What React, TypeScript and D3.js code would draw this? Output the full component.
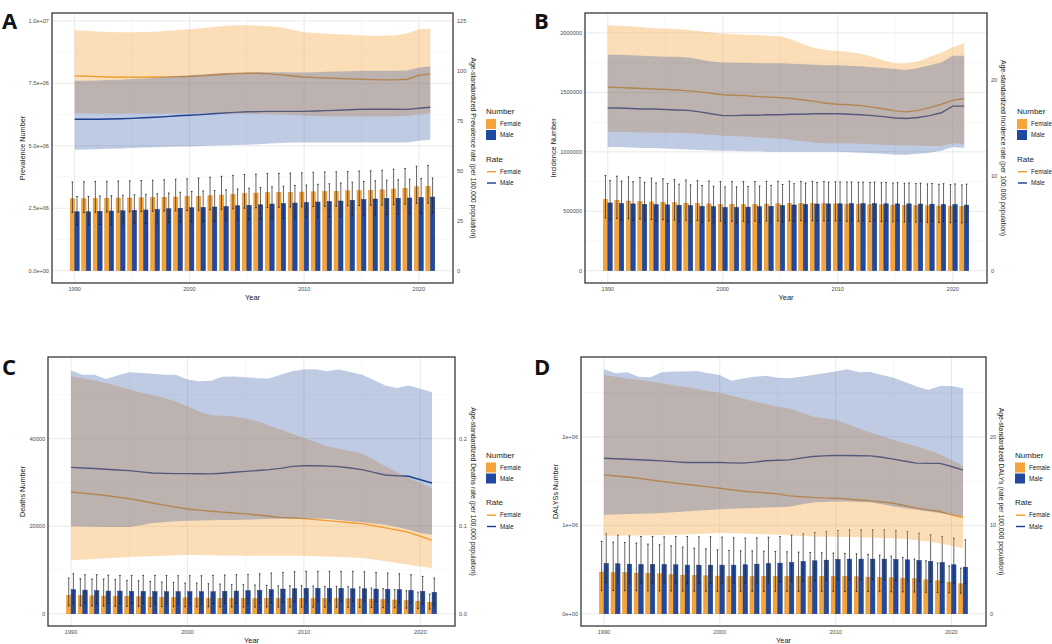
import React from 'react'
import * as d3 from 'd3'

// Burden of disease by sex, 1990-2021: bars = number (with UI), ribbons/lines = age-standardized rate

const years = [
  1990, 1991, 1992, 1993, 1994, 1995, 1996, 1997,
  1998, 1999, 2000, 2001, 2002, 2003, 2004, 2005,
  2006, 2007, 2008, 2009, 2010, 2011, 2012, 2013,
  2014, 2015, 2016, 2017, 2018, 2019, 2020, 2021,
]

// ---- A: prevalence (numbers in millions) ----
const prevFemaleNum = [
  2.88, 2.88, 2.89, 2.90, 2.91, 2.91, 2.92, 2.93,
  2.94, 2.95, 2.97, 2.98, 3.00, 3.03, 3.06, 3.09,
  3.11, 3.13, 3.13, 3.14, 3.15, 3.16, 3.17, 3.18,
  3.20, 3.21, 3.22, 3.24, 3.27, 3.30, 3.36, 3.38,
]
const prevFemaleLow = [
  2.33, 2.33, 2.34, 2.35, 2.35, 2.36, 2.37, 2.38,
  2.39, 2.40, 2.41, 2.42, 2.44, 2.46, 2.48, 2.50,
  2.52, 2.53, 2.54, 2.55, 2.56, 2.57, 2.58, 2.59,
  2.60, 2.61, 2.62, 2.63, 2.65, 2.67, 2.70, 2.71,
]
const prevFemaleUp = [
  3.55, 3.56, 3.57, 3.58, 3.59, 3.60, 3.61, 3.62,
  3.64, 3.66, 3.68, 3.71, 3.74, 3.78, 3.82, 3.85,
  3.87, 3.89, 3.90, 3.91, 3.92, 3.94, 3.95, 3.96,
  3.97, 3.99, 4.00, 4.02, 4.06, 4.09, 4.18, 4.21,
]
const prevMaleNum = [
  2.36, 2.36, 2.38, 2.39, 2.40, 2.42, 2.43, 2.45,
  2.48, 2.50, 2.52, 2.53, 2.55, 2.57, 2.60, 2.62,
  2.64, 2.67, 2.69, 2.71, 2.73, 2.75, 2.77, 2.79,
  2.82, 2.85, 2.87, 2.89, 2.90, 2.91, 2.93, 2.95,
]
const prevMaleLow = [
  1.84, 1.84, 1.85, 1.86, 1.87, 1.88, 1.89, 1.91,
  1.93, 1.95, 1.96, 1.97, 1.99, 2.01, 2.03, 2.05,
  2.06, 2.08, 2.10, 2.11, 2.13, 2.14, 2.16, 2.18,
  2.20, 2.22, 2.24, 2.25, 2.26, 2.27, 2.29, 2.31,
]
const prevMaleUp = [
  2.97, 2.97, 2.99, 3.00, 3.02, 3.04, 3.06, 3.08,
  3.11, 3.14, 3.17, 3.19, 3.21, 3.24, 3.27, 3.30,
  3.33, 3.36, 3.38, 3.41, 3.43, 3.46, 3.48, 3.51,
  3.54, 3.57, 3.60, 3.62, 3.64, 3.66, 3.69, 3.71,
]
const prevRateF = [
  97.5, 97.3, 97.1, 96.9, 96.8, 96.8, 96.8, 96.9,
  97.0, 97.1, 97.2, 97.5, 97.9, 98.3, 98.6, 98.8,
  98.8, 98.5, 98.0, 97.4, 96.9, 96.6, 96.4, 96.2,
  96.0, 95.8, 95.6, 95.5, 95.5, 95.8, 97.8, 98.5,
]
const prevRateFLow = [
  78.8, 78.8, 78.7, 78.7, 78.6, 78.6, 78.6, 78.6,
  78.6, 78.6, 78.6, 78.6, 78.6, 78.6, 78.5, 78.5,
  78.4, 78.4, 78.3, 78.0, 77.6, 77.4, 77.3, 77.2,
  77.2, 77.2, 77.2, 77.2, 77.3, 77.5, 78.3, 78.8,
]
const prevRateFUp = [
  120.3, 120.0, 119.7, 119.4, 119.3, 119.3, 119.4, 119.6,
  120.0, 120.4, 120.8, 121.3, 121.9, 122.4, 122.8, 122.8,
  122.6, 122.3, 121.7, 120.5, 119.3, 118.9, 118.6, 118.3,
  118.0, 117.7, 117.6, 117.6, 117.8, 118.8, 120.8, 121.2,
]
const prevRateM = [
  75.8, 75.8, 75.8, 75.9, 76.0, 76.2, 76.5, 76.8,
  77.1, 77.5, 77.8, 78.1, 78.5, 78.9, 79.2, 79.5,
  79.6, 79.7, 79.7, 79.7, 79.7, 79.9, 80.1, 80.3,
  80.5, 80.8, 80.8, 80.8, 80.8, 80.7, 81.3, 81.8,
]
const prevRateMLow = [
  60.5, 60.6, 60.8, 61.0, 61.2, 61.4, 61.6, 61.8,
  62.0, 62.1, 62.2, 62.4, 62.6, 62.8, 62.9, 63.0,
  63.3, 63.6, 63.9, 64.1, 64.2, 64.2, 64.2, 64.2,
  64.2, 64.2, 64.2, 64.2, 64.2, 64.2, 65.0, 65.5,
]
const prevRateMUp = [
  95.0, 95.1, 95.2, 95.4, 95.6, 95.9, 96.2, 96.6,
  97.0, 97.4, 97.8, 98.2, 98.6, 98.9, 99.1, 99.2,
  99.3, 99.3, 99.3, 99.2, 99.2, 99.3, 99.5, 99.7,
  99.8, 100.0, 100.1, 100.1, 100.1, 100.2, 101.7, 102.2,
]

// ---- B: incidence (numbers in thousands) ----
const incFemaleNum = [
  600, 592, 586, 582, 578, 575, 572, 568,
  565, 562, 559, 558, 558, 559, 561, 563,
  566, 566, 565, 564, 562, 560, 558, 556,
  554, 552, 550, 549, 546, 544, 543, 542,
]
const incFemaleLow = [
  444, 440, 437, 434, 431, 429, 427, 425,
  423, 420, 417, 416, 416, 417, 418, 419,
  421, 421, 420, 419, 418, 416, 415, 414,
  413, 411, 410, 409, 407, 405, 404, 402,
]
const incFemaleUp = [
  801, 795, 789, 784, 778, 773, 768, 763,
  758, 754, 750, 749, 749, 750, 751, 752,
  753, 752, 751, 750, 748, 746, 744, 742,
  740, 737, 735, 733, 730, 727, 724, 722,
]
const incMaleNum = [
  570, 566, 562, 558, 556, 554, 551, 548,
  542, 538, 532, 532, 535, 538, 542, 548,
  553, 558, 561, 562, 563, 564, 564, 564,
  563, 562, 562, 561, 560, 557, 556, 552,
]
const incMaleLow = [
  430, 427, 424, 421, 418, 416, 413, 410,
  407, 404, 402, 402, 404, 406, 408, 411,
  414, 417, 419, 421, 422, 422, 422, 421,
  420, 419, 418, 417, 416, 415, 414, 413,
]
const incMaleUp = [
  759, 754, 748, 743, 738, 733, 728, 722,
  716, 710, 705, 705, 708, 712, 718, 725,
  732, 738, 742, 745, 746, 746, 745, 744,
  742, 740, 738, 736, 734, 732, 730, 728,
]
const incRateF = [
  19.3, 19.25, 19.2, 19.15, 19.1, 19.05, 19.0, 18.9,
  18.8, 18.65, 18.5, 18.45, 18.4, 18.3, 18.25, 18.2,
  18.1, 17.95, 17.8, 17.6, 17.5, 17.45, 17.35, 17.2,
  17.0, 16.8, 16.7, 16.85, 17.15, 17.5, 17.9, 18.1,
]
const incRateFLow = [
  14.6, 14.6, 14.55, 14.55, 14.5, 14.5, 14.5, 14.45,
  14.4, 14.3, 14.2, 14.15, 14.1, 14.0, 13.95, 13.9,
  13.75, 13.6, 13.45, 13.4, 13.4, 13.4, 13.35, 13.3,
  13.25, 13.2, 13.2, 13.15, 13.1, 13.1, 13.4, 13.3,
]
const incRateFUp = [
  25.8, 25.75, 25.7, 25.6, 25.5, 25.45, 25.4, 25.3,
  25.2, 25.05, 24.9, 24.85, 24.8, 24.75, 24.7, 24.65,
  24.3, 23.8, 23.4, 23.2, 23.1, 23.0, 22.8, 22.5,
  22.1, 21.8, 21.8, 22.0, 22.5, 22.9, 23.5, 23.9,
]
const incRateM = [
  17.1, 17.1, 17.05, 17.0, 17.0, 16.95, 16.9, 16.85,
  16.7, 16.5, 16.3, 16.3, 16.35, 16.35, 16.4, 16.4,
  16.45, 16.45, 16.5, 16.5, 16.5, 16.45, 16.4, 16.3,
  16.2, 16.05, 16.0, 16.1, 16.3, 16.6, 17.3, 17.3,
]
const incRateMLow = [
  13.0, 13.0, 12.95, 12.9, 12.9, 12.85, 12.8, 12.75,
  12.7, 12.65, 12.6, 12.6, 12.55, 12.55, 12.5, 12.5,
  12.5, 12.5, 12.5, 12.5, 12.5, 12.45, 12.4, 12.35,
  12.3, 12.2, 12.2, 12.3, 12.4, 12.6, 13.0, 12.9,
]
const incRateMUp = [
  22.7, 22.7, 22.65, 22.6, 22.55, 22.5, 22.5, 22.4,
  22.2, 22.0, 21.9, 21.85, 21.85, 21.8, 21.8, 21.8,
  21.75, 21.7, 21.65, 21.6, 21.6, 21.55, 21.5, 21.4,
  21.3, 21.2, 21.1, 21.3, 21.6, 21.9, 22.6, 22.6,
]

// ---- C: deaths ----
const deathFemaleNum = [
  4190, 4150, 4100, 4040, 3990, 3940, 3880, 3820,
  3760, 3700, 3640, 3600, 3570, 3540, 3520, 3500,
  3490, 3480, 3480, 3470, 3470, 3460, 3450, 3440,
  3420, 3380, 3330, 3250, 3150, 3040, 2880, 2600,
]
const deathFemaleLow = [
  1850, 1830, 1800, 1780, 1750, 1720, 1700, 1680,
  1650, 1630, 1600, 1590, 1580, 1570, 1560, 1550,
  1540, 1540, 1530, 1530, 1520, 1520, 1510, 1500,
  1490, 1470, 1440, 1400, 1360, 1300, 1220, 1100,
]
const deathFemaleUp = [
  8150, 8000, 7930, 7920, 7850, 7620, 7540, 7390,
  7240, 7160, 7010, 7010, 6860, 6780, 6630, 6630,
  6550, 6480, 6400, 6400, 6400, 6330, 6250, 6250,
  6170, 6100, 5870, 5720, 5490, 5260, 4950, 4500,
]
const deathMaleNum = [
  5490, 5410, 5260, 5180, 5180, 5110, 5110, 5030,
  5030, 5030, 5030, 5030, 5030, 5110, 5180, 5260,
  5330, 5490, 5640, 5710, 5790, 5790, 5790, 5790,
  5710, 5710, 5640, 5560, 5490, 5330, 5110, 4880,
]
const deathMaleLow = [
  2440, 2420, 2400, 2380, 2370, 2350, 2340, 2330,
  2320, 2310, 2300, 2300, 2310, 2330, 2360, 2400,
  2450, 2520, 2600, 2680, 2750, 2800, 2820, 2820,
  2800, 2770, 2720, 2650, 2560, 2440, 2280, 2060,
]
const deathMaleUp = [
  9140, 8920, 8920, 8840, 8760, 8760, 8760, 8760,
  8760, 8690, 8690, 8690, 8760, 8840, 8920, 8990,
  9140, 9300, 9450, 9600, 9680, 9680, 9680, 9680,
  9680, 9600, 9450, 9300, 9140, 8920, 8530, 8150,
]
const deathRateF = [
  0.1390, 0.1378, 0.1364, 0.1350, 0.1332, 0.1314, 0.1290, 0.1265,
  0.1240, 0.1218, 0.1196, 0.1183, 0.1170, 0.1160, 0.1150, 0.1140,
  0.1127, 0.1114, 0.1100, 0.1093, 0.1086, 0.1075, 0.1063, 0.1052,
  0.1040, 0.1029, 0.1005, 0.0980, 0.0957, 0.0930, 0.0885, 0.0840,
]
const deathRateFLow = [
  0.0610, 0.0618, 0.0626, 0.0634, 0.0641, 0.0648, 0.0653, 0.0658,
  0.0663, 0.0667, 0.0670, 0.0670, 0.0668, 0.0666, 0.0664, 0.0663,
  0.0663, 0.0663, 0.0663, 0.0663, 0.0662, 0.0658, 0.0653, 0.0648,
  0.0642, 0.0636, 0.0620, 0.0600, 0.0579, 0.0560, 0.0540, 0.0522,
]
const deathRateFUp = [
  0.2712, 0.2690, 0.2665, 0.2636, 0.2600, 0.2560, 0.2525, 0.2495,
  0.2465, 0.2420, 0.2369, 0.2310, 0.2267, 0.2260, 0.2253, 0.2230,
  0.2198, 0.2150, 0.2103, 0.2055, 0.2008, 0.1960, 0.1912, 0.1885,
  0.1858, 0.1829, 0.1760, 0.1684, 0.1615, 0.1550, 0.1493, 0.1436,
]
const deathRateM = [
  0.1672, 0.1665, 0.1658, 0.1650, 0.1642, 0.1634, 0.1620, 0.1608,
  0.1603, 0.1600, 0.1600, 0.1598, 0.1597, 0.1605, 0.1615, 0.1626,
  0.1636, 0.1646, 0.1660, 0.1683, 0.1690, 0.1690, 0.1686, 0.1680,
  0.1665, 0.1646, 0.1615, 0.1585, 0.1575, 0.1570, 0.1530, 0.1493,
]
const deathRateMLow = [
  0.0998, 0.0996, 0.0994, 0.0992, 0.0991, 0.0990, 0.1010, 0.1036,
  0.1045, 0.1055, 0.1063, 0.1066, 0.1068, 0.1070, 0.1072, 0.1074,
  0.1078, 0.1082, 0.1086, 0.1086, 0.1086, 0.1086, 0.1085, 0.1070,
  0.1057, 0.1044, 0.1030, 0.1017, 0.0990, 0.0960, 0.0922, 0.0903,
]
const deathRateMUp = [
  0.2777, 0.2730, 0.2730, 0.2680, 0.2720, 0.2758, 0.2750, 0.2740,
  0.2730, 0.2730, 0.2674, 0.2655, 0.2660, 0.2705, 0.2710, 0.2700,
  0.2690, 0.2686, 0.2730, 0.2770, 0.2789, 0.2792, 0.2770, 0.2789,
  0.2760, 0.2730, 0.2670, 0.2606, 0.2579, 0.2606, 0.2568, 0.2529,
]

// ---- D: DALYs (numbers in thousands) ----
const dalyFemaleNum = [
  471, 467, 464, 460, 456, 452, 444, 437,
  433, 429, 426, 422, 422, 422, 422, 422,
  422, 422, 422, 422, 422, 422, 418, 414,
  411, 407, 403, 396, 384, 373, 358, 339,
]
const dalyFemaleLow = [
  264, 263, 262, 261, 260, 259, 258, 257,
  256, 255, 254, 254, 254, 254, 254, 254,
  254, 254, 254, 254, 254, 253, 252, 251,
  250, 249, 248, 246, 243, 240, 237, 234,
]
const dalyFemaleUp = [
  817, 810, 806, 799, 788, 780, 769, 753,
  742, 735, 723, 716, 712, 712, 708, 704,
  701, 697, 693, 690, 686, 682, 678, 671,
  663, 652, 637, 618, 599, 573, 542, 516,
]
const dalyMaleNum = [
  569, 565, 561, 557, 557, 557, 554, 550,
  550, 550, 550, 550, 554, 561, 569, 573,
  580, 591, 599, 606, 614, 618, 618, 618,
  618, 614, 610, 603, 591, 580, 554, 527,
]
const dalyMaleLow = [
  354, 352, 350, 349, 348, 347, 346, 345,
  345, 345, 345, 346, 348, 352, 356, 360,
  365, 370, 375, 380, 383, 384, 384, 384,
  383, 380, 376, 370, 362, 354, 346, 339,
]
const dalyMaleUp = [
  904, 889, 881, 874, 874, 870, 874, 874,
  870, 870, 866, 859, 855, 859, 866, 874,
  889, 904, 919, 930, 941, 949, 949, 949,
  949, 941, 930, 912, 893, 874, 855, 836,
]
const dalyRateF = [
  15.71, 15.58, 15.46, 15.33, 15.14, 14.95, 14.80, 14.65,
  14.50, 14.35, 14.20, 14.03, 13.86, 13.76, 13.66, 13.56,
  13.33, 13.25, 13.16, 13.10, 13.07, 12.97, 12.87, 12.77,
  12.63, 12.50, 12.22, 11.94, 11.75, 11.56, 11.19, 10.88,
]
const dalyRateFLow = [
  8.81, 8.82, 8.84, 8.86, 8.88, 8.90, 8.93, 8.97,
  9.02, 9.07, 9.12, 9.10, 9.07, 9.03, 8.98, 8.93,
  8.87, 8.80, 8.74, 8.72, 8.70, 8.68, 8.65, 8.62,
  8.58, 8.55, 8.45, 8.32, 8.17, 7.95, 7.68, 7.42,
]
const dalyRateFUp = [
  27.0, 26.8, 26.6, 26.45, 26.25, 26.07, 25.85, 25.65,
  25.42, 25.2, 25.0, 24.65, 24.3, 24.0, 23.7, 23.42,
  23.24, 22.75, 22.3, 22.1, 21.92, 21.45, 20.97, 20.49,
  20.07, 19.66, 19.28, 18.9, 18.48, 18.05, 17.4, 16.72,
]
const dalyRateM = [
  17.59, 17.53, 17.47, 17.41, 17.35, 17.29, 17.20, 17.10,
  17.10, 17.10, 17.10, 17.06, 17.03, 17.15, 17.30, 17.35,
  17.40, 17.60, 17.78, 17.85, 17.89, 17.89, 17.87, 17.85,
  17.70, 17.48, 17.25, 17.03, 17.00, 17.00, 16.65, 16.25,
]
const dalyRateMLow = [
  11.19, 11.23, 11.27, 11.31, 11.35, 11.38, 11.47, 11.56,
  11.65, 11.74, 11.83, 11.88, 11.92, 11.97, 12.01, 12.05,
  12.10, 12.35, 12.58, 12.64, 12.69, 12.69, 12.65, 12.60,
  12.37, 12.13, 11.94, 11.75, 11.56, 11.38, 11.19, 11.00,
]
const dalyRateMUp = [
  27.65, 27.2, 27.3, 26.8, 26.75, 27.3, 27.4, 27.4,
  27.46, 27.2, 27.0, 26.36, 26.6, 26.8, 26.9, 26.7,
  26.63, 26.8, 27.0, 27.2, 27.4, 27.65, 27.3, 27.35,
  27.0, 26.7, 26.2, 25.7, 25.3, 25.76, 25.76, 25.5,
]

const xTicks = [1990, 2000, 2010, 2020]
const xMinor = [1995, 2005, 2015]

const FEMALE = '#F5A33B'
const MALE = '#2149A0'
const FEMALE_LINE = '#EE9A2E'
const MALE_LINE = '#1E3C8E'
const FONT = "'Liberation Sans', Arial, sans-serif"

interface Band { mid: number[]; low: number[]; up: number[] }
interface PanelSpec {
  letter: string
  letterX: number
  letterY: number
  box: { l: number; t: number; r: number; b: number }
  unit: number
  factor: number
  female: Band
  male: Band
  rateF: Band
  rateM: Band
  leftTicks: number[]
  leftLabels: string[]
  rightTicks: number[]
  rightLabels: string[]
  leftTitle: string
  rightTitle: string
  leftTitleX: number
  rightTitleX: number
  legendX: number
}

const panels: PanelSpec[] = [
  {
    letter: 'A', letterX: 2, letterY: 20,
    box: { l: 52, t: 13, r: 453, b: 283 },
    unit: 1e6, factor: 80000,
    female: { mid: prevFemaleNum, low: prevFemaleLow, up: prevFemaleUp },
    male: { mid: prevMaleNum, low: prevMaleLow, up: prevMaleUp },
    rateF: { mid: prevRateF, low: prevRateFLow, up: prevRateFUp },
    rateM: { mid: prevRateM, low: prevRateMLow, up: prevRateMUp },
    leftTicks: [0, 2.5e6, 5e6, 7.5e6, 1e7],
    leftLabels: ['0.0e+00', '2.5e+06', '5.0e+06', '7.5e+06', '1.0e+07'],
    rightTicks: [0, 25, 50, 75, 100, 125],
    rightLabels: ['0', '25', '50', '75', '100', '125'],
    leftTitle: 'Prevalence Number',
    rightTitle: 'Age-standardized Prevalence rate (per 100,000 population)',
    leftTitleX: 22, rightTitleX: 473, legendX: 486,
  },
  {
    letter: 'B', letterX: 534, letterY: 20,
    box: { l: 585, t: 13, r: 987, b: 283 },
    unit: 1e3, factor: 80000,
    female: { mid: incFemaleNum, low: incFemaleLow, up: incFemaleUp },
    male: { mid: incMaleNum, low: incMaleLow, up: incMaleUp },
    rateF: { mid: incRateF, low: incRateFLow, up: incRateFUp },
    rateM: { mid: incRateM, low: incRateMLow, up: incRateMUp },
    leftTicks: [0, 500000, 1000000, 1500000, 2000000],
    leftLabels: ['0', '500000', '1000000', '1500000', '2000000'],
    rightTicks: [0, 10, 20],
    rightLabels: ['0', '10', '20'],
    leftTitle: 'Incidence Number',
    rightTitle: 'Age-standardized Incidence rate (per 100,000 population)',
    leftTitleX: 553, rightTitleX: 1003, legendX: 1017,
  },
  {
    letter: 'C', letterX: 2, letterY: 366,
    box: { l: 48, t: 357, r: 455, b: 626 },
    unit: 1, factor: 200000,
    female: { mid: deathFemaleNum, low: deathFemaleLow, up: deathFemaleUp },
    male: { mid: deathMaleNum, low: deathMaleLow, up: deathMaleUp },
    rateF: { mid: deathRateF, low: deathRateFLow, up: deathRateFUp },
    rateM: { mid: deathRateM, low: deathRateMLow, up: deathRateMUp },
    leftTicks: [0, 20000, 40000],
    leftLabels: ['0', '20000', '40000'],
    rightTicks: [0, 0.1, 0.2],
    rightLabels: ['0.0', '0.1', '0.2'],
    leftTitle: 'Deaths Number',
    rightTitle: 'Age-standardized Deaths rate (per 100,000 population)',
    leftTitleX: 22, rightTitleX: 473, legendX: 486,
  },
  {
    letter: 'D', letterX: 534, letterY: 366,
    box: { l: 581, t: 357, r: 986, b: 626 },
    unit: 1e3, factor: 100000,
    female: { mid: dalyFemaleNum, low: dalyFemaleLow, up: dalyFemaleUp },
    male: { mid: dalyMaleNum, low: dalyMaleLow, up: dalyMaleUp },
    rateF: { mid: dalyRateF, low: dalyRateFLow, up: dalyRateFUp },
    rateM: { mid: dalyRateM, low: dalyRateMLow, up: dalyRateMUp },
    leftTicks: [0, 1e6, 2e6],
    leftLabels: ['0e+00', '1e+06', '2e+06'],
    rightTicks: [0, 10, 20],
    rightLabels: ['0', '10', '20'],
    leftTitle: 'DALYSs Number',
    rightTitle: 'Age-standardized DALYs (rate per 100,000 population)',
    leftTitleX: 555, rightTitleX: 1001, legendX: 1015,
  },
]

const BAR_W = 0.38
const DODGE = 0.2

const Panel: React.FC<{ p: PanelSpec }> = ({ p }) => {
  const { l, t, r, b } = p.box
  const xLo = years[0] - DODGE - BAR_W / 2
  const xHi = years[years.length - 1] + DODGE + BAR_W / 2
  const xPad = (xHi - xLo) * 0.05
  const x = d3.scaleLinear().domain([xLo - xPad, xHi + xPad]).range([l, r])

  const maxVal = Math.max(
    d3.max(p.female.up)! * p.unit,
    d3.max(p.male.up)! * p.unit,
    d3.max(p.rateF.up)! * p.factor,
    d3.max(p.rateM.up)! * p.factor,
  )
  const y = d3.scaleLinear().domain([-0.05 * maxVal, 1.05 * maxVal]).range([b, t])
  const yr = (v: number) => y(v * p.factor)

  const step = p.leftTicks[1] - p.leftTicks[0]
  const minorY: number[] = []
  for (let v = p.leftTicks[0] - step / 2; v < 1.05 * maxVal; v += step) {
    if (v > -0.05 * maxVal) minorY.push(v)
  }

  const band = (s: Band) =>
    d3.area<number>()
      .x((_, i) => x(years[i]))
      .y0((_, i) => yr(s.low[i]))
      .y1((_, i) => yr(s.up[i]))(years) || ''
  const line = (s: Band) =>
    d3.line<number>()
      .x((_, i) => x(years[i]))
      .y((_, i) => yr(s.mid[i]))(years) || ''

  const bw = x(BAR_W) - x(0)
  const cy = (t + b) / 2
  const bars = (s: Band, off: number, fill: string, stroke: string) =>
    years.map((yy, i) => {
      const cx = x(yy + off)
      const top = y(s.mid[i] * p.unit)
      const lo = y(s.low[i] * p.unit)
      const hi = y(s.up[i] * p.unit)
      return (
        <g key={`${off}-${yy}`}>
          <rect x={cx - bw / 2} y={top} width={bw} height={y(0) - top} fill={fill} stroke={stroke} strokeWidth={0.5} />
          <line x1={cx} x2={cx} y1={lo} y2={hi} stroke="#2b2b2b" strokeOpacity={0.8} strokeWidth={0.9} />
          <line x1={cx - 0.8} x2={cx + 0.8} y1={hi} y2={hi} stroke="#111" strokeWidth={0.8} />
          <line x1={cx - 0.8} x2={cx + 0.8} y1={lo} y2={lo} stroke="#111" strokeWidth={0.8} />
        </g>
      )
    })

  const clipId = `clip-${p.letter}`
  return (
    <g fontFamily={FONT}>
      <defs>
        <clipPath id={clipId}>
          <rect x={l} y={t} width={r - l} height={b - t} />
        </clipPath>
      </defs>
      {/* grid */}
      {minorY.map((v) => (
        <line key={`my${v}`} x1={l} x2={r} y1={y(v)} y2={y(v)} stroke="#F2F2F2" strokeWidth={0.6} />
      ))}
      {xMinor.map((v) => (
        <line key={`mx${v}`} x1={x(v)} x2={x(v)} y1={t} y2={b} stroke="#F2F2F2" strokeWidth={0.6} />
      ))}
      {p.leftTicks.map((v) => (
        <line key={`gy${v}`} x1={l} x2={r} y1={y(v)} y2={y(v)} stroke="#E4E4E4" strokeWidth={0.8} />
      ))}
      {xTicks.map((v) => (
        <line key={`gx${v}`} x1={x(v)} x2={x(v)} y1={t} y2={b} stroke="#E4E4E4" strokeWidth={0.8} />
      ))}

      <g clipPath={`url(#${clipId})`}>
        {bars(p.female, -DODGE, FEMALE, '#E08E2A')}
        {bars(p.male, DODGE, MALE, '#17357A')}
        <path d={line(p.rateF)} fill="none" stroke={FEMALE_LINE} strokeWidth={1.4} />
        <path d={line(p.rateM)} fill="none" stroke={MALE_LINE} strokeWidth={1.4} />
        <path d={band(p.rateF)} fill={FEMALE} fillOpacity={0.36} />
        <path d={band(p.rateM)} fill={MALE} fillOpacity={0.29} />
      </g>

      <rect x={l} y={t} width={r - l} height={b - t} fill="none" stroke="#383838" strokeWidth={1.3} />

      {/* left axis */}
      {p.leftTicks.map((v, i) => (
        <text key={`lt${v}`} x={l - 3} y={y(v)} dy="0.35em" textAnchor="end" fontSize={5.6} fill="#4D4D4D">
          {p.leftLabels[i]}
        </text>
      ))}
      {/* right axis */}
      {p.rightTicks.map((v, i) => (
        <text key={`rt${v}`} x={r + 4} y={yr(v)} dy="0.35em" textAnchor="start" fontSize={5.6} fill="#4D4D4D">
          {p.rightLabels[i]}
        </text>
      ))}
      {/* x axis */}
      {xTicks.map((v) => (
        <text key={`xt${v}`} x={x(v)} y={b + 7.5} textAnchor="middle" fontSize={5.6} fill="#4D4D4D">
          {v}
        </text>
      ))}
      <text x={(l + r) / 2} y={b + 17} textAnchor="middle" fontSize={7.5} fill="#1a1a1a">Year</text>
      <text
        transform={`translate(${p.leftTitleX},${cy}) rotate(-90)`}
        textAnchor="middle" dominantBaseline="central" fontSize={7.3} fill="#1a1a1a"
      >
        {p.leftTitle}
      </text>
      <text
        transform={`translate(${p.rightTitleX},${cy}) rotate(90)`}
        textAnchor="middle" dominantBaseline="central" fontSize={6.9} fill="#1a1a1a"
      >
        {p.rightTitle}
      </text>

      {/* legend */}
      <g transform={`translate(${p.legendX},${cy})`}>
        <text x={0} y={-34} fontSize={8} fill="#1a1a1a">Number</text>
        <rect x={0} y={-29} width={10} height={10} fill={FEMALE} />
        <rect x={0} y={-18} width={10} height={10} fill={MALE} />
        <text x={14} y={-24} dy="0.35em" fontSize={6.3} fill="#1a1a1a">Female</text>
        <text x={14} y={-13} dy="0.35em" fontSize={6.3} fill="#1a1a1a">Male</text>
        <text x={0} y={13.5} fontSize={8} fill="#1a1a1a">Rate</text>
        <line x1={1} x2={10} y1={23.7} y2={23.7} stroke={FEMALE_LINE} strokeWidth={1.4} />
        <line x1={1} x2={10} y1={35} y2={35} stroke={MALE_LINE} strokeWidth={1.4} />
        <text x={14} y={23.7} dy="0.35em" fontSize={6.3} fill="#1a1a1a">Female</text>
        <text x={14} y={35} dy="0.35em" fontSize={6.3} fill="#1a1a1a">Male</text>
      </g>

      <text
        x={p.letterX} y={p.letterY} dominantBaseline="central"
        fontFamily="'Open Sans', 'DejaVu Sans', sans-serif" fontWeight={700} fontSize={22} fill="#111"
      >
        {p.letter}
      </text>
    </g>
  )
}

const App: React.FC = () => {
  return (
    <div style={{ position: 'absolute', left: 0, top: 0 }}>
      <svg width={1052} height={644} style={{ display: 'block', background: '#fff' }}>
        {panels.map((p) => (
          <Panel key={p.letter} p={p} />
        ))}
      </svg>
    </div>
  )
}

export default App
